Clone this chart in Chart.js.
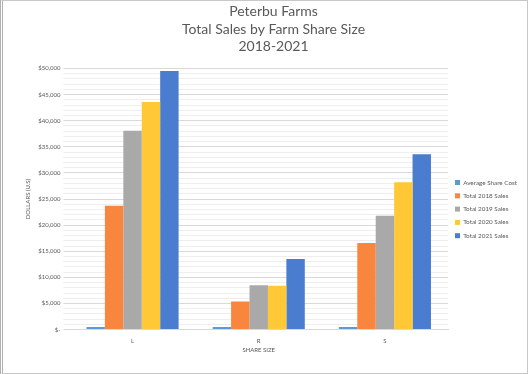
<!DOCTYPE html>
<html>
<head>
<meta charset="utf-8">
<script src="https://cdn.jsdelivr.net/npm/chart.js@4.4.0/dist/chart.umd.min.js"></script>
<style>
    html, body { margin: 0; padding: 0; background: #fff; }
    #wrap {
        position: relative;
        width: 528px; height: 374px;
        box-sizing: border-box;
        border: 1px solid #c8c8c8;
        border-left: 3px double #b0b0b0;
    }
    canvas { display: block; }
</style>
</head>
<body>
<div id="wrap"><canvas id="chart" width="524" height="372"></canvas></div>
<script>
const categories = ['L', 'R', 'S'];
const seriesNames = ['Average Share Cost', 'Total 2018 Sales', 'Total 2019 Sales', 'Total 2020 Sales', 'Total 2021 Sales'];
const avgShareCost = [500, 500, 500];
const sales2018 = [23700, 5400, 16600];
const sales2019 = [38100, 8500, 21800];
const sales2020 = [43600, 8400, 28200];
const sales2021 = [49500, 13500, 33600];
const seriesColors = ['#5B9BD5', '#F8863E', '#A9A9A9', '#FFC836', '#4A7CCF'];

const allSeries = [avgShareCost, sales2018, sales2019, sales2020, sales2021];

function money(v) {
    if (v === 0) return '$-';
    return '$' + v.toLocaleString('en-US');
}

new Chart(document.getElementById('chart'), {
    type: 'bar',
    data: {
        labels: categories,
        datasets: allSeries.map((vals, i) => ({
            label: seriesNames[i],
            data: vals,
            backgroundColor: seriesColors[i],
            borderWidth: 0,
            categoryPercentage: 0.73,
            barPercentage: 1.0
        }))
    },
    options: {
        responsive: false,
        animation: false,
        layout: { padding: { left: 17, right: 0, top: 0, bottom: 19 } },
        plugins: {
            title: {
                display: true,
                text: ['Peterbu Farms', 'Total Sales by Farm Share Size', '2018-2021'],
                color: '#595959',
                font: { family: 'Lato', size: 14, weight: 'normal', lineHeight: 1.25 },
                padding: { top: 2, bottom: 13 }
            },
            legend: {
                position: 'right',
                align: 'center',
                title: {
                    display: true,
                    text: ' ',
                    font: { size: 6 },
                    padding: { top: 28, bottom: 28 }
                },
                labels: {
                    boxWidth: 5,
                    boxHeight: 5,
                    padding: 7,
                    color: '#595959',
                    font: { family: 'Lato', size: 6.3 }
                }
            },
            tooltip: { enabled: false }
        },
        scales: {
            x: {
                grid: { display: false },
                border: { color: '#d9d9d9' },
                ticks: { padding: 0, color: '#595959', font: { family: 'Lato', size: 6 } },
                title: {
                    display: true,
                    text: 'SHARE SIZE',
                    color: '#595959',
                    font: { family: 'Lato', size: 6 },
                    padding: { top: 2, bottom: 0 }
                }
            },
            y: {
                min: 0,
                max: 50000,
                border: { display: false },
                grid: {
                    color: ctx => (ctx.tick && ctx.tick.value % 5000 === 0) ? '#d9d9d9' : '#eeeeee',
                    tickLength: 6
                },
                ticks: {
                    stepSize: 1000,
                    autoSkip: false,
                    color: '#595959',
                    font: { family: 'Lato', size: 6 },
                    callback: v => (v % 5000 === 0) ? money(v) : ''
                },
                title: {
                    display: true,
                    text: 'DOLLARS (U.S)',
                    color: '#595959',
                    font: { family: 'Lato', size: 6 },
                    padding: { top: 4, bottom: 4 }
                }
            }
        }
    }
});
</script>
</body>
</html>
